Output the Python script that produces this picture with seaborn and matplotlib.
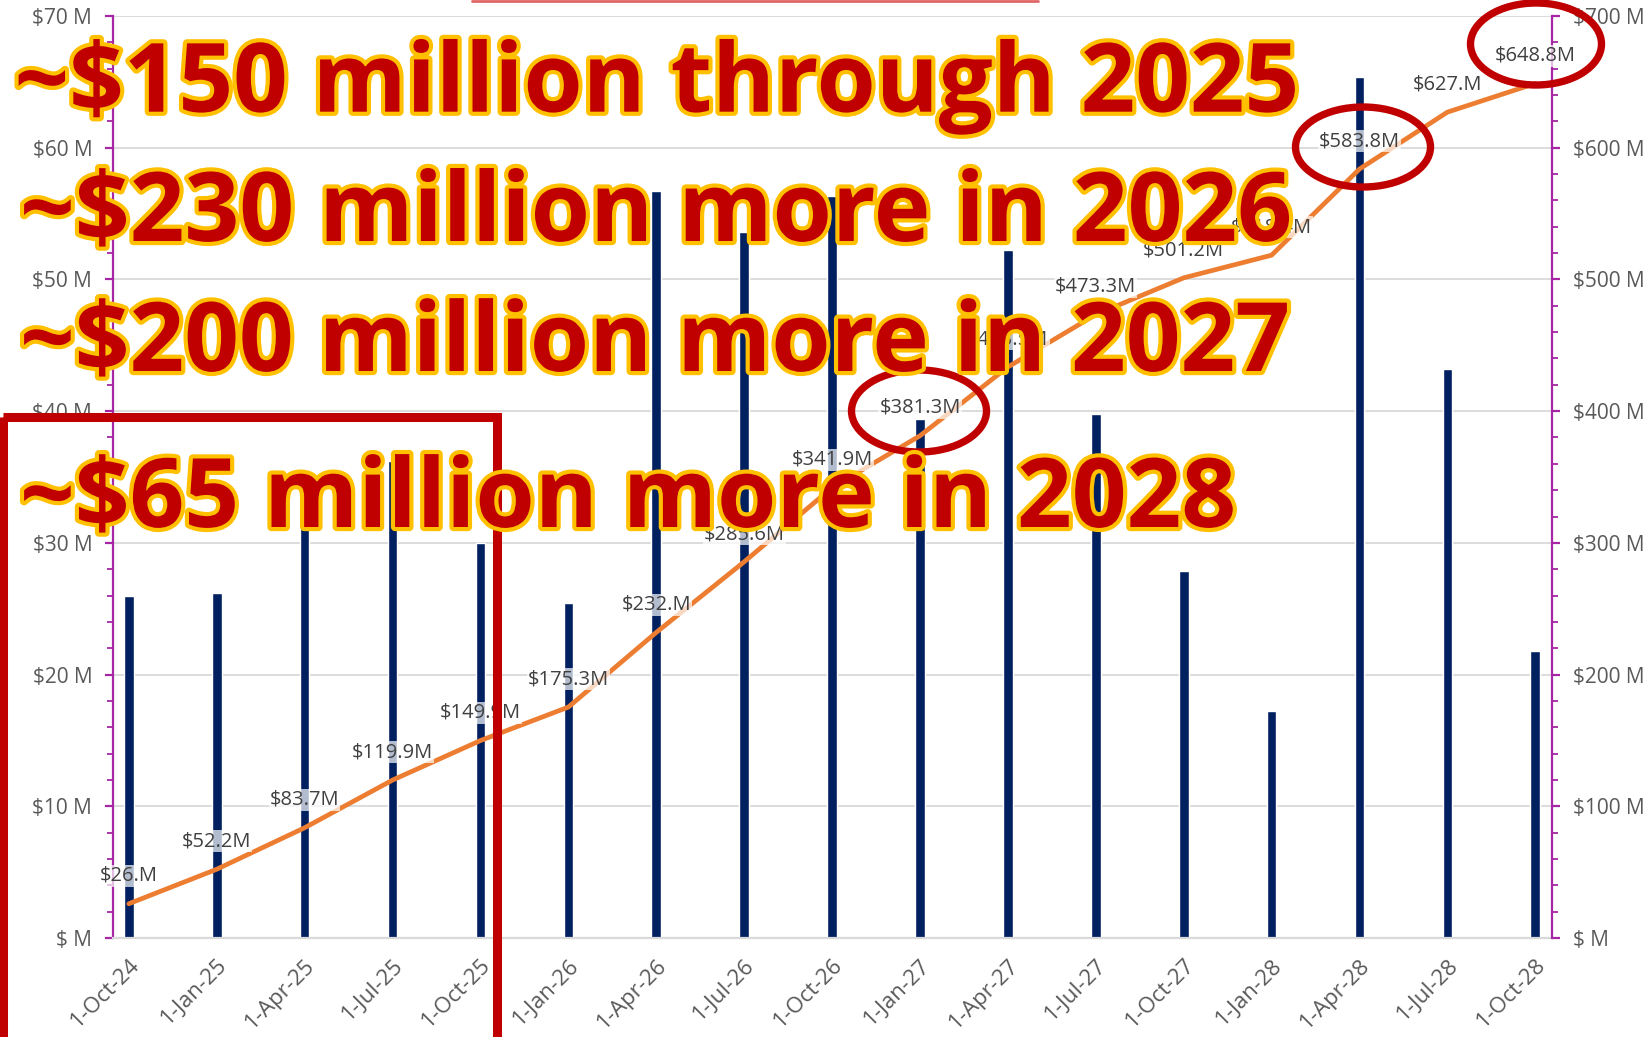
import numpy as np
import pandas as pd
import matplotlib
matplotlib.use("Agg")
import matplotlib.pyplot as plt
import seaborn as sns
from matplotlib.patches import Ellipse, Rectangle
from matplotlib.ticker import MultipleLocator, FuncFormatter, FixedLocator
import matplotlib.patheffects as pe

# ---------------- data ----------------
quarters = ["1-Oct-24", "1-Jan-25", "1-Apr-25", "1-Jul-25", "1-Oct-25", "1-Jan-26",
            "1-Apr-26", "1-Jul-26", "1-Oct-26", "1-Jan-27", "1-Apr-27", "1-Jul-27",
            "1-Oct-27", "1-Jan-28", "1-Apr-28", "1-Jul-28", "1-Oct-28"]
quarterly_m = [26.0, 26.2, 31.5, 36.2, 30.0, 25.4, 56.7, 53.6, 56.3, 39.4, 52.2,
               39.8, 27.9, 17.2, 65.4, 43.2, 21.8]
cumulative_m = [26.0, 52.2, 83.7, 119.9, 149.9, 175.3, 232.0, 285.6, 341.9, 381.3,
                433.5, 473.3, 501.2, 518.4, 583.8, 627.0, 648.8]
headlines = ["~$150 million through 2025",
             "~$230 million more in 2026",
             "~$200 million more in 2027",
             "~$65 million more in 2028"]

# ---------------- style ----------------
BAR = "#002060"
LINE = "#ED7D31"
PURPLE = "#A626A4"
GRID = "#D9D9D9"
TXT = "#595959"
RED = "#C00000"
GOLD = "#FFC000"

sns.set_style("white")
plt.rcParams["font.family"] = ["Open Sans", "DejaVu Sans"]

W, H = 1652, 1037
fig = plt.figure(figsize=(W / 100, H / 100), dpi=100)
ax = fig.add_axes([113 / W, 99 / H, 1439 / W, 922 / H])

df = pd.DataFrame({"quarter": quarters, "quarterly": quarterly_m,
                   "cumulative": cumulative_m, "pos": np.arange(len(quarters))})

sns.barplot(data=df, x="quarter", y="quarterly", color=BAR, saturation=1,
            width=0.11, ax=ax, zorder=2)
ax.set_ylim(0, 70)
ax.yaxis.set_major_locator(MultipleLocator(10))
ax.yaxis.set_minor_locator(MultipleLocator(2))
ax.yaxis.set_major_formatter(FuncFormatter(lambda v, p: "$ M" if v == 0 else f"${v:.0f} M"))
ax.yaxis.grid(True, which="major", color=GRID, lw=1.3)
ax.set_axisbelow(True)
ax.tick_params(axis="y", which="major", length=6, width=1.6, color=PURPLE,
               labelcolor=TXT, labelsize=15, pad=9, direction="out")
ax.tick_params(axis="y", which="minor", length=4, width=1.3, color=PURPLE, direction="out")

n = len(quarters)
ax.set_xticks(np.arange(n))
ax.set_xticklabels(quarters, rotation=45, ha="right", va="top", rotation_mode="anchor")
ax.xaxis.set_minor_locator(FixedLocator(np.arange(n) - 0.17))
ax.tick_params(axis="x", which="major", length=0, pad=12, labelsize=16, labelcolor=TXT)
ax.tick_params(axis="x", which="minor", length=6, width=1.3, color=GRID)
ax.set_xlabel("")
ax.set_ylabel("")
for s in ["top", "right"]:
    ax.spines[s].set_visible(False)
ax.spines["left"].set_color(PURPLE)
ax.spines["left"].set_linewidth(1.6)
ax.spines["bottom"].set_color(GRID)
ax.spines["bottom"].set_linewidth(1.6)

ax2 = ax.twinx()
sns.lineplot(data=df, x="pos", y="cumulative", ax=ax2, color=LINE, linewidth=3.4, zorder=3)
ax2.set_ylim(0, 700)
ax2.yaxis.set_major_locator(MultipleLocator(100))
ax2.yaxis.set_minor_locator(MultipleLocator(20))
ax2.yaxis.set_major_formatter(FuncFormatter(lambda v, p: "$ M" if v == 0 else f"${v:.0f} M"))
ax2.tick_params(axis="y", which="major", length=6, width=1.6, color=PURPLE,
                labelcolor=TXT, labelsize=15, pad=9, direction="out")
ax2.tick_params(axis="y", which="minor", length=4, width=1.3, color=PURPLE, direction="out")
ax2.set_ylabel("")
ax2.set_xlabel("")
for s in ["top", "left", "bottom"]:
    ax2.spines[s].set_visible(False)
ax2.spines["right"].set_color(PURPLE)
ax2.spines["right"].set_linewidth(1.6)
ax.set_xlim(-0.18, 16.19)


def fmt_label(v):
    s = f"{v:.1f}"
    if s.endswith(".0"):
        s = s[:-1]
    return f"${s}M"


for i, v in enumerate(cumulative_m):
    ax2.annotate(fmt_label(v), (i, v), xytext=(0, 20), textcoords="offset points",
                 ha="center", va="center", fontsize=14.5, color="#404040", zorder=5,
                 bbox=dict(boxstyle="square,pad=0.05", fc="white", ec="none", alpha=0.7))

# ---------------- overlay annotations (pixel coords) ----------------
ov = fig.add_axes([0, 0, 1, 1], zorder=10)
ov.set_xlim(0, W)
ov.set_ylim(H, 0)
ov.axis("off")
ov.patch.set_alpha(0)

ov.plot([472, 1038], [1, 1], color="#E06666", lw=2)
ov.add_patch(Rectangle((2.5, 417), 494, 700, fill=False, ec=RED, lw=6.5))
for (cx, cy, ew, eh) in [(919, 411, 135, 82), (1363, 147, 135, 80), (1536, 44, 131, 82)]:
    ov.add_patch(Ellipse((cx, cy), ew, eh, fill=False, ec=RED, lw=5.3))

specs = [(14.5, 111.7, 1285), (20, 241, 1272), (20, 371, 1270), (20, 527, 1216)]
texts = []
for s, (x, y, tw) in zip(headlines, specs):
    t = ov.text(x, y, s, fontsize=70, fontweight="bold", family=["Open Sans", "DejaVu Sans"],
                color=RED, va="baseline", ha="left",
                path_effects=[pe.withStroke(linewidth=6, foreground=GOLD)])
    texts.append((t, tw))

fig.canvas.draw()
r = fig.canvas.get_renderer()
for t, tw in texts:
    w = t.get_window_extent(r).width
    t.set_fontsize(70 * tw / w)

fig.savefig("out.png", dpi=100)
